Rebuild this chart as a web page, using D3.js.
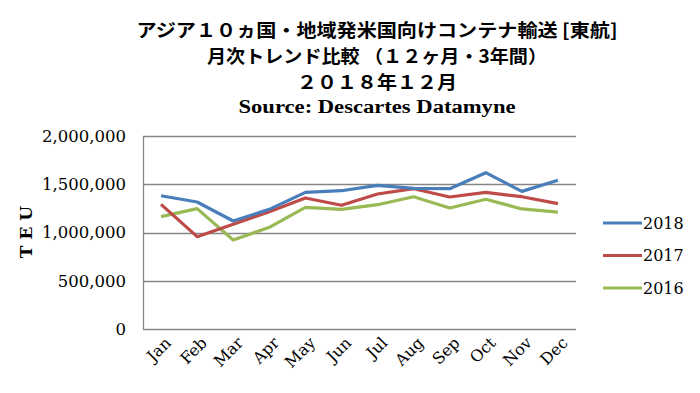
<!DOCTYPE html>
<html>
<head>
<meta charset="utf-8">
<script src="https://cdn.jsdelivr.net/npm/d3@7"></script>
<style>
  body { margin: 0; background: #fff; }
  svg { display: block; }
</style>
</head>
<body>
<svg id="chart" width="700" height="393"></svg>
<script>
// Data
const months = ["Jan", "Feb", "Mar", "Apr", "May", "Jun", "Jul", "Aug", "Sep", "Oct", "Nov", "Dec"];
const teu2018 = [1381000, 1316000, 1119000, 1240000, 1416000, 1433000, 1489000, 1458000, 1454000, 1620000, 1426000, 1541000];
const teu2017 = [1292000, 957000, 1085000, 1216000, 1358000, 1282000, 1399000, 1454000, 1368000, 1416000, 1371000, 1299000];
const teu2016 = [1164000, 1247000, 922000, 1054000, 1261000, 1240000, 1288000, 1371000, 1254000, 1344000, 1244000, 1212000];
const yTicks = [0, 500000, 1000000, 1500000, 2000000];
const titleLines = [
  "アジア１０ヵ国・地域発米国向けコンテナ輸送 [東航]",
  "月次トレンド比較 （１２ヶ月・3年間）",
  "２０１８年１２月"
];
const sourceLine = "Source: Descartes Datamyne";

const series = [
  { name: "2018", values: teu2018, color: "#4a7ebb" },
  { name: "2017", values: teu2017, color: "#be4b48" },
  { name: "2016", values: teu2016, color: "#98b954" }
];

const svg = d3.select("#chart");
const plot = { left: 143, right: 576, top: 136, bottom: 329 };
const serif = "'DejaVu Serif', serif";
const jp = "'Noto Sans CJK JP', sans-serif";

const x = d3.scaleBand().domain(months).range([plot.left, plot.right]);
const y = d3.scaleLinear().domain([0, 2000000]).range([plot.bottom, plot.top]);

// Title
const titleCx = 377;
const titleSpecs = [
  { text: titleLines[0], y: 31, len: 481, font: jp },
  { text: titleLines[1], y: 57, len: 340, font: jp },
  { text: titleLines[2], y: 83, len: 160, font: jp },
  { text: sourceLine, y: 107, len: 277, font: "'Liberation Serif', serif" }
];
svg.append("g").selectAll("text")
  .data(titleSpecs)
  .join("text")
  .attr("x", titleCx)
  .attr("y", d => d.y)
  .attr("dy", "0.36em")
  .attr("text-anchor", "middle")
  .attr("font-family", d => d.font)
  .attr("font-weight", "bold")
  .attr("font-size", 18)
  .attr("textLength", d => d.len)
  .attr("lengthAdjust", "spacingAndGlyphs")
  .attr("fill", "#000")
  .text(d => d.text);

// Gridlines
svg.append("g")
  .selectAll("line")
  .data(yTicks)
  .join("line")
  .attr("x1", plot.left)
  .attr("x2", plot.right)
  .attr("y1", d => Math.round(y(d)) + 0.5)
  .attr("y2", d => Math.round(y(d)) + 0.5)
  .attr("stroke", "#868686")
  .attr("stroke-width", 1.3);

// Left axis line
svg.append("line")
  .attr("x1", plot.left + 0.5)
  .attr("x2", plot.left + 0.5)
  .attr("y1", plot.top)
  .attr("y2", plot.bottom + 0.5)
  .attr("stroke", "#868686")
  .attr("stroke-width", 1.3);

// Y axis labels
const fmt = d3.format(",");
svg.append("g")
  .selectAll("text")
  .data(yTicks)
  .join("text")
  .attr("x", 126)
  .attr("y", d => y(d))
  .attr("dy", "0.35em")
  .attr("text-anchor", "end")
  .attr("font-family", serif)
  .attr("font-size", 16.5)
  .attr("fill", "#000")
  .text(d => fmt(d));

// Y axis title
svg.append("text")
  .attr("transform", "translate(26,232) rotate(-90)")
  .attr("text-anchor", "middle")
  .attr("dy", "0.36em")
  .attr("font-family", serif)
  .attr("font-weight", "bold")
  .attr("font-size", 17)
  .attr("fill", "#000")
  .text("T E U");

// X axis labels
svg.append("g")
  .selectAll("text")
  .data(months)
  .join("text")
  .attr("transform", d => `translate(${x(d) + x.bandwidth() / 2 + 3},${plot.bottom + 7}) rotate(-45)`)
  .attr("text-anchor", "end")
  .attr("dy", "0.7em")
  .attr("font-family", serif)
  .attr("font-size", 16)
  .attr("fill", "#000")
  .text(d => d);

// Lines
const line = d3.line()
  .x((d, i) => x(months[i]) + x.bandwidth() / 2)
  .y(d => y(d));

svg.append("g")
  .selectAll("path")
  .data(series.slice().reverse())
  .join("path")
  .attr("d", d => line(d.values))
  .attr("fill", "none")
  .attr("stroke", d => d.color)
  .attr("stroke-width", 3.2)
  .attr("stroke-linejoin", "round");

// Legend
const legend = svg.append("g")
  .selectAll("g")
  .data(series)
  .join("g")
  .attr("transform", (d, i) => `translate(603,${223 + i * 32.5})`);

legend.append("line")
  .attr("x1", 0)
  .attr("x2", 39)
  .attr("stroke", d => d.color)
  .attr("stroke-width", 3.2);

legend.append("text")
  .attr("x", 40)
  .attr("dy", "0.35em")
  .attr("font-family", serif)
  .attr("font-size", 16)
  .attr("fill", "#000")
  .text(d => d.name);
</script>
</body>
</html>
